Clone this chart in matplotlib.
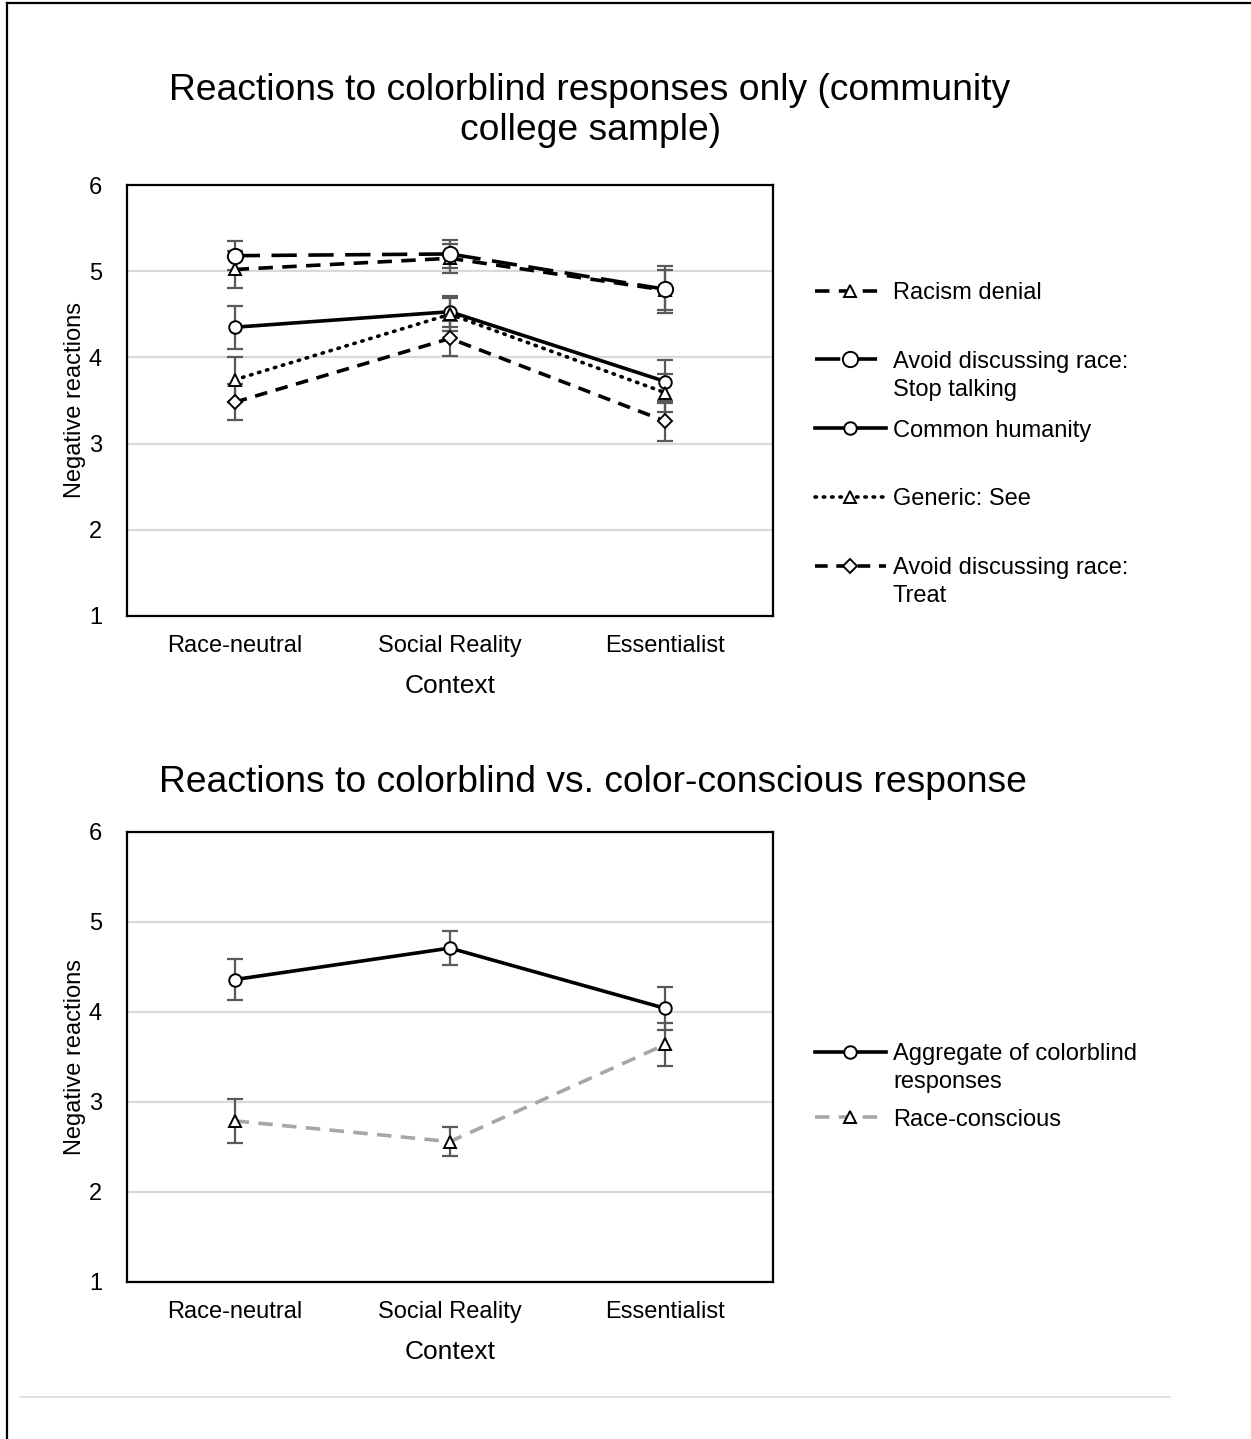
import numpy as np
import matplotlib
matplotlib.use("Agg")
from matplotlib import pyplot as plt
from matplotlib.lines import Line2D

plt.rcParams['font.family'] = ['Liberation Sans', 'DejaVu Sans']

contexts = ["Race-neutral", "Social Reality", "Essentialist"]

# top chart: means and error sizes per context
denial = [5.02, 5.15, 4.78]
denial_err = [0.22, 0.17, 0.23]
stop_talking = [5.18, 5.20, 4.79]
stop_talking_err = [0.17, 0.16, 0.27]
humanity = [4.35, 4.53, 3.72]
humanity_err = [0.25, 0.18, 0.25]
generic_see = [3.74, 4.50, 3.59]
generic_see_err = [0.26, 0.19, 0.22]
treat = [3.48, 4.22, 3.26]
treat_err = [0.21, 0.20, 0.23]

# bottom chart
aggregate = [4.36, 4.71, 4.04]
aggregate_err = [0.23, 0.19, 0.24]
race_conscious = [2.79, 2.56, 3.64]
race_conscious_err = [0.245, 0.165, 0.235]

W, H = 1251, 1439
fig = plt.figure(figsize=(W / 100, H / 100), dpi=100)


def fx(px):
    return px / W


def fy(py):
    return 1 - py / H


ax1 = fig.add_axes([fx(127), fy(616), fx(646), 431 / H])
ax2 = fig.add_axes([fx(127), fy(1282), fx(646), 450 / H])

ERR_COLOR = "#595959"


def add_series(ax, vals, errs, ls, marker, color="black", ms=9, dotted=False):
    x = np.arange(len(contexts))
    ax.errorbar(x, vals, yerr=errs, fmt="none", ecolor=ERR_COLOR,
                elinewidth=1.6, capsize=5.5, capthick=1.6, zorder=2)
    line, = ax.plot(x, vals, color=color, lw=2.6, marker=marker, ms=ms,
                    mfc="white", mec="black", mew=1.4, zorder=3)
    if isinstance(ls, tuple):
        line.set_dashes(ls)
    else:
        line.set_linestyle(ls)
    if dotted:
        line.set_dash_capstyle("round")
    return line


def style_axes(ax):
    ax.set_xlim(-0.5, 2.5)
    ax.set_ylim(1, 6)
    ax.set_yticks([1, 2, 3, 4, 5, 6])
    ax.set_xticks(range(len(contexts)))
    ax.set_xticklabels(contexts)
    ax.tick_params(length=0, labelsize=17, pad=14, colors="black")
    ax.tick_params(axis="y", pad=18)
    ax.grid(axis="y", color="#d9d9d9", lw=1.6)
    ax.set_axisbelow(True)
    for s in ax.spines.values():
        s.set_linewidth(1.6)
        s.set_color("black")
    ax.set_ylabel("Negative reactions", fontsize=17, labelpad=2)
    ax.set_xlabel("Context", fontsize=19, labelpad=12)


h_denial = add_series(ax1, denial, denial_err, (4, 2.6), "^")
h_stop = add_series(ax1, stop_talking, stop_talking_err, (7, 3.2), "o", ms=11)
h_hum = add_series(ax1, humanity, humanity_err, "-", "o")
h_gen = add_series(ax1, generic_see, generic_see_err, (0.4, 1.9), "^", dotted=True)
h_treat = add_series(ax1, treat, treat_err, (3.5, 2.4), "D", ms=7)
style_axes(ax1)

h_agg = add_series(ax2, aggregate, aggregate_err, "-", "o")
h_rc = add_series(ax2, race_conscious, race_conscious_err, (4, 2.6), "^",
                  color="#a6a6a6")
style_axes(ax2)

leg1 = ax1.legend([h_denial, h_stop, h_hum, h_gen, h_treat],
                  ["Racism denial", "Avoid discussing race:", "Common humanity",
                   "Generic: See", "Avoid discussing race:"],
                  loc="upper left", bbox_to_anchor=(fx(815), fy(282)),
                  bbox_transform=fig.transFigure, frameon=False, fontsize=17,
                  handlelength=3.0, handletextpad=0.3, borderpad=0,
                  borderaxespad=0, labelspacing=1.98)
leg2 = ax2.legend([h_agg, h_rc], ["Aggregate of colorblind", "Race-conscious"],
                  loc="upper left", bbox_to_anchor=(fx(815), fy(1043)),
                  bbox_transform=fig.transFigure, frameon=False, fontsize=17,
                  handlelength=3.0, handletextpad=0.3, borderpad=0,
                  borderaxespad=0, labelspacing=1.85)

fig.text(fx(590), fy(73), "Reactions to colorblind responses only (community\ncollege sample)",
         ha="center", va="top", fontsize=26.8, linespacing=1.2)
fig.text(fx(593), fy(765), "Reactions to colorblind vs. color-conscious response",
         ha="center", va="top", fontsize=26.8)

# second lines of the two-line legend labels
fig.canvas.draw()
for leg, idx, extra in [(leg1, 1, "Stop talking"), (leg1, 4, "Treat"),
                        (leg2, 0, "responses")]:
    bb = leg.get_texts()[idx].get_window_extent()
    fig.text(bb.x0 / W, (bb.y0 - 28) / H, extra, fontsize=17,
             ha="left", va="bottom")

# outer frame (left and top) and bottom separator
fig.add_artist(Line2D([fx(7), fx(7)], [0, fy(3)], color="black", lw=1.6))
fig.add_artist(Line2D([fx(7), 1], [fy(3), fy(3)], color="black", lw=1.6))
fig.add_artist(Line2D([fx(20), fx(1170)], [fy(1397), fy(1397)],
                      color="#d9d9d9", lw=1.2))

fig.savefig("out.png", dpi=100, facecolor="white")
